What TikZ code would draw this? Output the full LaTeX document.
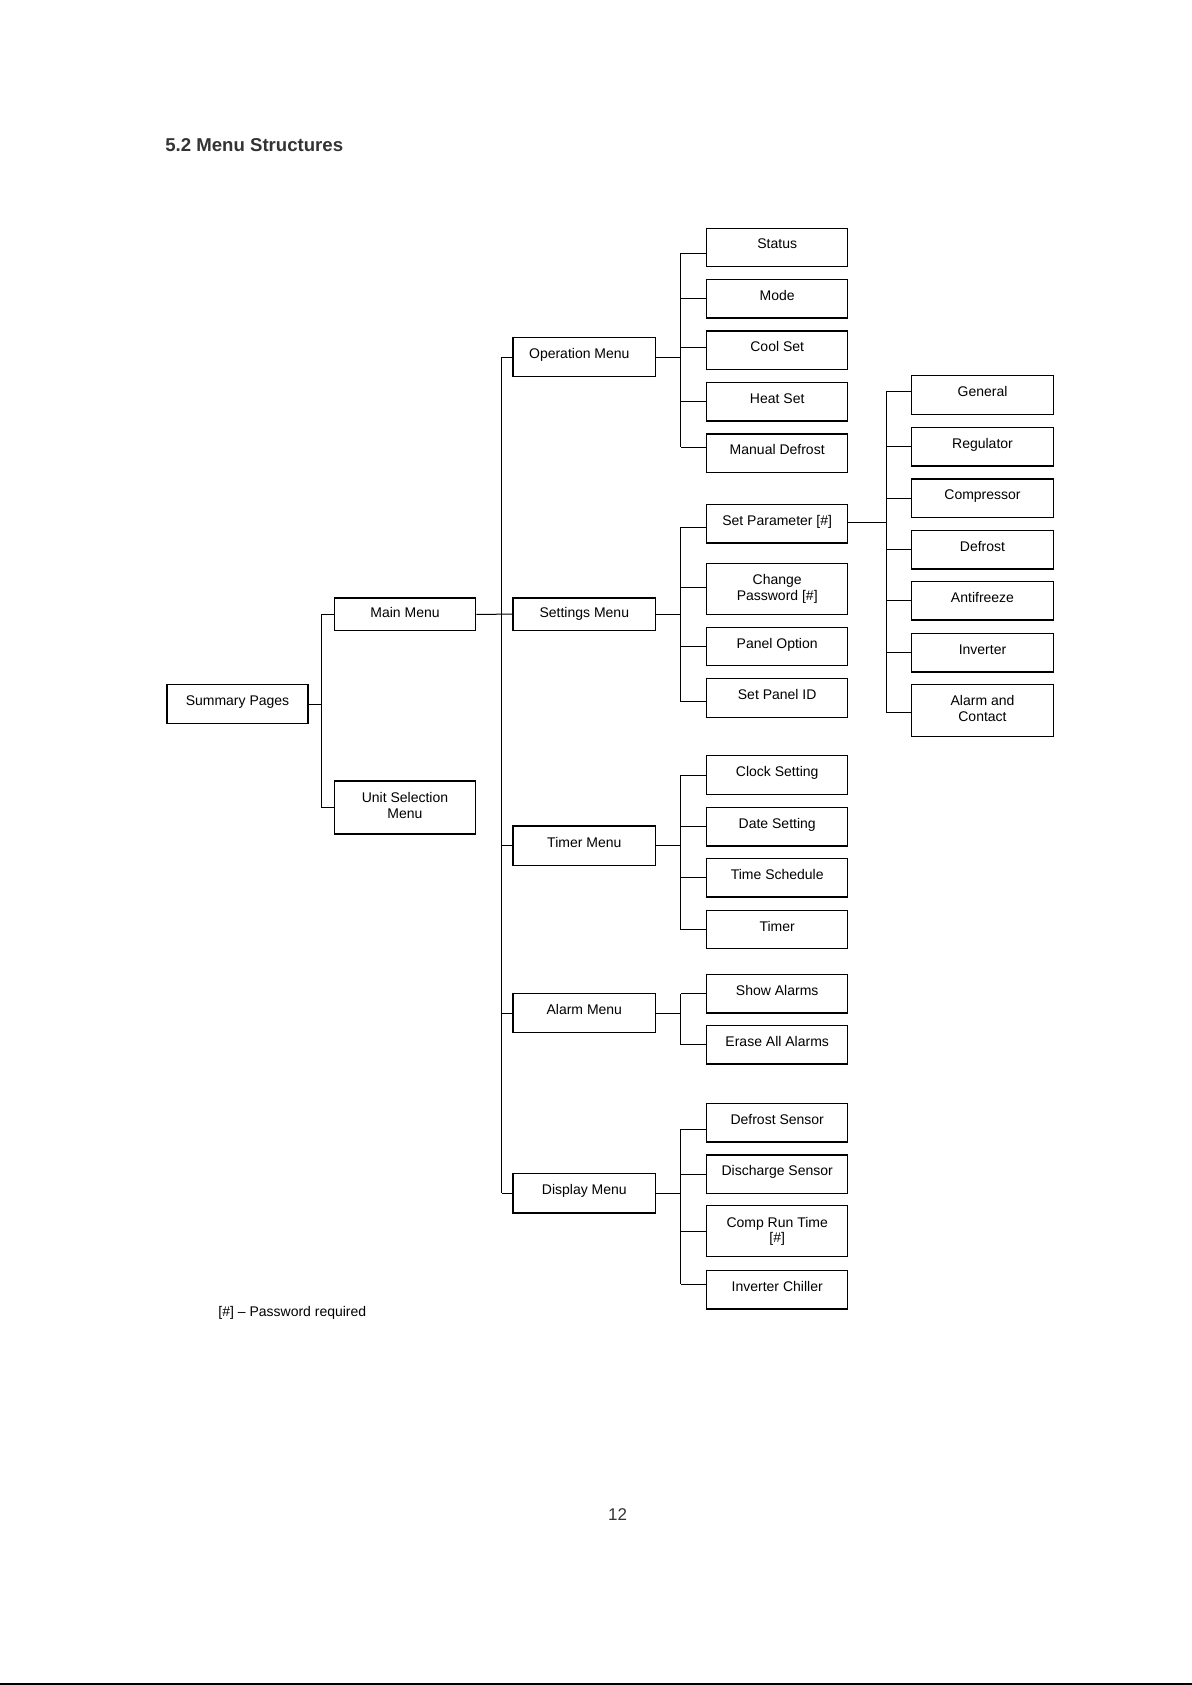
\documentclass[tikz,border=0pt]{standalone}
\usepackage{fontspec}
\setmainfont{Liberation Sans}
\definecolor{titlegray}{HTML}{333333}
\definecolor{pagegray}{HTML}{333333}
\begin{document}
\begin{tikzpicture}[x=0.5pt,y=-0.5pt,
  boxbase/.style={draw, line width=0.65pt, inner sep=0pt, font=\fontsize{7}{7.7}\selectfont},
  box/.style={boxbase, minimum width=70.5pt, minimum height=19.3pt, text height=5.5pt, text depth=4pt},
  boxtwo/.style={boxbase, minimum width=70.5pt, minimum height=25.5pt, align=center},
  lvlthree/.style={box, minimum width=71.25pt, minimum height=19.7pt},
  lvlfive/.style={box, minimum width=70.8pt},
  shortbox/.style={boxbase, minimum height=16.25pt, text height=5.5pt, text depth=2.5pt},
  conn/.style={line width=0.5pt}]
\fill[white] (0,0) rectangle (1192,1685);
\useasboundingbox (0,0) rectangle (1192,1685);

% title and notes
\node[anchor=base west, inner sep=0pt, text=titlegray, font=\bfseries\fontsize{9.3}{11}\selectfont] (title) at (165,151.5) {5.2 Menu Structures};
\node[anchor=base west, inner sep=0pt, font=\fontsize{7}{8}\selectfont] (note) at (218,1316) {[\#] – Password required};
\node[anchor=base, inner sep=0pt, text=pagegray, font=\fontsize{8.5}{10}\selectfont] (page) at (617.5,1520.7) {12};
\draw[line width=0.75pt] (0,1684) -- (1192,1684);

% bus positions
\coordinate (b1) at (321,0);
\coordinate (b2) at (501.5,0);
\coordinate (b3) at (680.5,0);
\coordinate (b4) at (886,0);

% level 1 and 2
\node[box] (sum) at (237.5,704) {Summary Pages};
\node[shortbox, minimum width=70.75pt] (main) at (405,614.3) {Main Menu};
\node[boxtwo, minimum width=70.75pt, minimum height=26.5pt] (unit) at (405,807.5) {Unit Selection\\Menu\rule[-2.2pt]{0pt}{0pt}};

% level 3
\node[lvlthree] (op) at (584.3,357) {Operation Menu\hspace*{5pt}};
\node[shortbox, minimum width=71.25pt] (set) at (584.3,614.2) {Settings Menu};
\node[lvlthree] (tim) at (584.3,845.8) {Timer Menu};
\node[lvlthree] (alm) at (584.3,1013) {Alarm Menu};
\node[lvlthree] (dis) at (584.3,1193.2) {Display Menu};

% level 4 : operation
\node[box] (st) at (777.2,247.5) {Status};
\node[box] (mo) at (777.2,298.8) {Mode};
\node[box] (cs) at (777.2,350.2) {Cool Set};
\node[box] (hs) at (777.2,401.8) {Heat Set};
\node[box] (md) at (777.2,453.3) {Manual Defrost};
% level 4 : settings
\node[box] (sp) at (777.2,523.8) {Set Parameter [\#]};
\node[boxtwo] (cp) at (777.2,588.8) {Change\\Password [\#]};
\node[box] (po) at (777.2,646.5) {Panel Option};
\node[box] (pid) at (777.2,698) {Set Panel ID};
% level 4 : timer
\node[box] (cls) at (777.2,775) {Clock Setting};
\node[box] (dts) at (777.2,826.7) {Date Setting};
\node[box] (tsc) at (777.2,877.8) {Time Schedule};
\node[box] (tmr) at (777.2,929.5) {Timer};
% level 4 : alarm
\node[box] (sha) at (777.2,993.8) {Show Alarms};
\node[box] (era) at (777.2,1044.8) {Erase All Alarms};
% level 4 : display
\node[box] (dfs) at (777.2,1122.8) {Defrost Sensor};
\node[box] (dcs) at (777.2,1174.2) {Discharge Sensor};
\node[boxtwo] (crt) at (777.2,1231.3) {Comp Run Time\\{}[\#]};
\node[box] (ivc) at (777.2,1289.8) {Inverter Chiller};

% level 5 : set parameter
\node[lvlfive] (gen) at (982.5,395) {General};
\node[lvlfive] (reg) at (982.5,446.7) {Regulator};
\node[lvlfive] (cmp) at (982.5,498.2) {Compressor};
\node[lvlfive] (dfr) at (982.5,549.8) {Defrost};
\node[lvlfive] (afz) at (982.5,600.8) {Antifreeze};
\node[lvlfive] (inv) at (982.5,652.7) {Inverter};
\node[boxtwo, minimum width=70.8pt, minimum height=26.2pt] (alc) at (982.5,710.5) {Alarm and\\Contact\rule[-2.2pt]{0pt}{0pt}};

% connectors level 1
\draw[conn] (sum.east) -- (sum.east -| b1);
\draw[conn] (main.west -| b1) -- (unit.west -| b1);
\foreach \n in {main,unit} \draw[conn] (\n.west) -- (\n.west -| b1);

% connectors level 2
\draw[conn] (main.east) -- (set.west);
\draw[conn] (op.west -| b2) -- (dis.west -| b2);
\foreach \n in {op,tim,alm,dis} \draw[conn] (\n.west) -- (\n.west -| b2);

% operation menu
\draw[conn] (op.east) -- (op.east -| b3);
\foreach \n/\s in {st/-2.9pt, mo/0pt, cs/1.45pt, hs/0pt, md/3pt}
  \draw[conn] ([yshift=\s]\n.west) -- ([yshift=\s]\n.west -| b3);
\draw[conn] ([yshift=-2.9pt]st.west -| b3) -- ([yshift=3pt]md.west -| b3);

% settings menu
\draw[conn] (set.east) -- (set.east -| b3);
\foreach \n/\s in {sp/-1.75pt, cp/0.5pt, po/0pt, pid/-1.85pt}
  \draw[conn] ([yshift=\s]\n.west) -- ([yshift=\s]\n.west -| b3);
\draw[conn] ([yshift=-1.75pt]sp.west -| b3) -- ([yshift=-1.85pt]pid.west -| b3);

% timer menu
\draw[conn] (tim.east) -- (tim.east -| b3);
\foreach \n in {cls,dts,tsc,tmr} \draw[conn] (\n.west) -- (\n.west -| b3);
\draw[conn] (cls.west -| b3) -- (tmr.west -| b3);

% alarm menu
\draw[conn] (alm.east) -- (alm.east -| b3);
\foreach \n in {sha,era} \draw[conn] (\n.west) -- (\n.west -| b3);
\draw[conn] (sha.west -| b3) -- (era.west -| b3);

% display menu
\draw[conn] (dis.east) -- (dis.east -| b3);
\foreach \n/\s in {dfs/-3.25pt, dcs/0pt, crt/0pt, ivc/2.9pt}
  \draw[conn] ([yshift=\s]\n.west) -- ([yshift=\s]\n.west -| b3);
\draw[conn] ([yshift=-3.25pt]dfs.west -| b3) -- ([yshift=2.9pt]ivc.west -| b3);

% set parameter submenu
\draw[conn] ([yshift=0.75pt]sp.east) -- ([yshift=0.75pt]sp.east -| b4);
\foreach \n/\s in {gen/1.65pt, reg/0pt, cmp/0pt, dfr/0pt, afz/0pt, inv/0pt, alc/-1.1pt}
  \draw[conn] ([yshift=\s]\n.west) -- ([yshift=\s]\n.west -| b4);
\draw[conn] ([yshift=1.65pt]gen.west -| b4) -- ([yshift=-1.1pt]alc.west -| b4);
\end{tikzpicture}
\end{document}
